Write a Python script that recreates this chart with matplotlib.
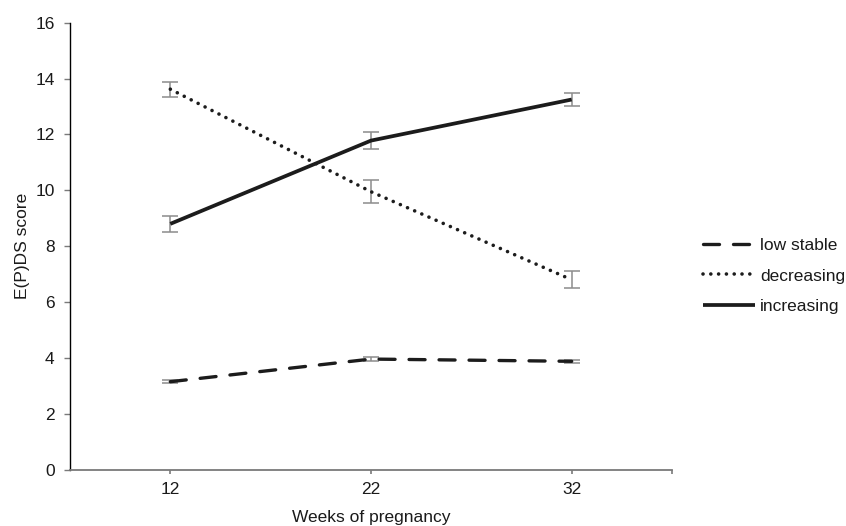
import matplotlib
matplotlib.use("Agg")
import matplotlib.pyplot as plt
from matplotlib.ticker import FixedLocator

plt.rcParams['font.family'] = ['Liberation Sans', 'DejaVu Sans']

weeks = ["12", "22", "32"]
low_stable = [3.15, 3.96, 3.88]
low_stable_err = [0.05, 0.07, 0.06]
decreasing = [13.62, 9.95, 6.8]
decreasing_err = [0.27, 0.42, 0.3]
increasing = [8.8, 11.78, 13.25]
increasing_err = [0.29, 0.29, 0.24]

fig = plt.figure(figsize=(8.46, 5.26), dpi=100)
ax = fig.add_axes([70/846, 1 - 469.7/526, (672 - 70)/846, (469.7 - 22.7)/526])

x = list(range(len(weeks)))
dark = '#1c1c1c'
errc = '#8c8c8c'

for vals, errs in [(low_stable, low_stable_err), (decreasing, decreasing_err), (increasing, increasing_err)]:
    ax.errorbar(x, vals, yerr=errs, fmt='none', ecolor=errc, elinewidth=1.1, capsize=5.5, capthick=1.1, zorder=2)

ax.plot(x, low_stable, color=dark, lw=2.4, linestyle=(0, (4.8, 4.2)), dash_capstyle='round', label='low stable', zorder=3)
ax.plot(x, decreasing, color=dark, lw=2.6, linestyle=(0, (0.01, 2.15)), dash_capstyle='round', label='decreasing', zorder=3)
ax.plot(x, increasing, color=dark, lw=2.7, solid_capstyle='butt', label='increasing', zorder=3)

ax.set_xlim(-0.5, 2.5)
ax.set_ylim(0, 16)
ax.set_yticks(range(0, 17, 2))
ax.set_xticks(x)
ax.set_xticklabels(weeks)
ax.xaxis.set_minor_locator(FixedLocator([2.5]))

for s in ['top', 'right']:
    ax.spines[s].set_visible(False)
ax.spines['left'].set_color('black')
ax.spines['left'].set_linewidth(1.0)
ax.spines['bottom'].set_color('#7a7a7a')
ax.spines['bottom'].set_linewidth(1.3)

fs = 12.5
ax.tick_params(axis='y', direction='out', length=4, width=1, color='#7a7a7a', labelsize=fs, pad=7, labelcolor='#1a1a1a')
ax.tick_params(axis='x', which='both', direction='out', length=3, width=1.2, color='#7a7a7a', labelsize=fs, pad=6, labelcolor='#1a1a1a')

ax.set_xlabel('Weeks of pregnancy', fontsize=fs, labelpad=9, color='#1a1a1a')
ax.set_ylabel('E(P)DS score', fontsize=fs, labelpad=4, color='#1a1a1a')

leg = fig.legend(loc='center left', bbox_to_anchor=(703/846, 1 - 276/526), frameon=False,
                 fontsize=12.5, handlelength=3.0, handletextpad=0.3, labelspacing=0.9,
                 borderaxespad=0, borderpad=0)
for t in leg.get_texts():
    t.set_color('#1a1a1a')

fig.savefig('out.png', dpi=100)
